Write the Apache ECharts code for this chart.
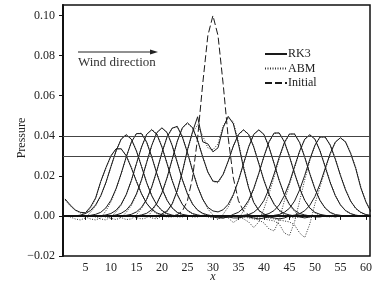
<!DOCTYPE html>
<html>
<head>
<meta charset="utf-8">
<script src="https://cdn.jsdelivr.net/npm/echarts@6/dist/echarts.min.js"></script>
<style>
  html, body { margin: 0; padding: 0; background: #fff; }
  #chart { width: 386px; height: 286px; }
</style>
</head>
<body>
<div id="chart"></div>
<script>
// grid points along x
const xs = [1,2,3,4,5,6,7,8,9,10,11,12,13,14,15,16,17,18,19,20,21,22,23,24,25,26,27,28,29,30,
  31,32,33,34,35,36,37,38,39,40,41,42,43,44,45,46,47,48,49,50,51,52,53,54,55,56,57,58,59,60,61];
const xTicks = [5, 10, 15, 20, 25, 30, 35, 40, 45, 50, 55, 60];
const yTicks = [-0.02, 0, 0.02, 0.04, 0.06, 0.08, 0.10];
const refLevels = [0.0405, 0.033];

// initial pulse
const initial = [0,0,0,0,0,0,0,0,0,0, 0,0,0,0,0,0,0,0,0,0,
  0,0,0.0006,0.0024,0.0076,0.019,0.039,0.066,0.09,0.1,
  0.09,0.066,0.039,0.019,0.0076,0.0024,0.0006,0,0,0,
  0,0,0,0,0,0,0,0,0,0, 0,0,0,0,0,0,0,0,0,0,0];

// RK3 snapshots
const rk3T1 = [0,0,0,0,0,0,0,0,0,0, 0,0,0,0,0,0,0,0,-0.0005,0.001,
  0.0025,0.006,0.0126,0.022,0.033,0.042,0.0495,0.037,0.036,0.032,
  0.034,0.044,0.0497,0.046,0.036,0.024,0.014,0.0067,0.0028,0.001,
  0,0,0,0,0,0,0,0,0,0, 0,0,0,0,0,0,0,0,0,0,0];
const rk3T2 = [0,0,0,0,0,0,0,0,0,0, 0,0,0,0,0,0.0005,0.0013,0.0031,0.0063,0.0116,
  0.0191,0.0282,0.0372,0.044,0.0465,0.044,0.0377,0.0294,0.0219,0.0174,
  0.017,0.0208,0.0274,0.0349,0.0407,0.043,0.0407,0.0344,0.0261,0.0177,
  0.0107,0.0058,0.0028,0.0012,0.0005,0,-0.0005,-0.001,-0.0005,0,
  0,0,0,0,0,0,0,0,0,0,0];
const rk3T3 = [0,0,0,0,0,0,0,0,0,0, 0,0,0.0003,0.0008,0.002,0.0043,0.0083,0.0145,0.0226,0.0316,
  0.0394,0.0438,0.0447,0.0394,0.0316,0.0226,0.0145,0.0083,0.0043,0.0025,
  0.002,0.0031,0.0058,0.0107,0.0177,0.0261,0.0344,0.0407,0.043,0.0407,
  0.0344,0.0261,0.0177,0.0107,0.0058,0.0028,0.0012,0.0005,0,-0.0005,
  -0.0005,0,0,0,0,0,0,0,0,0,0];
const rk3T4 = [0,0,0,0,0,0,0,0,0,0,
  0.0005,0.0013,0.0029,0.0059,0.011,0.0181,0.0267,0.0352,0.0416,0.044,
  0.0416,0.0352,0.0267,0.0181,0.011,0.0059,0.0029,0.0013,0.0005,0,
  -0.0005,-0.001,-0.0005,0.0008,0.0018,0.004,0.0078,0.0137,0.0213,0.0297,
  0.037,0.0414,0.0414,0.037,0.0297,0.0213,0.0137,0.0078,0.004,0.0018,
  0.0008,0.0003,0,-0.0005,0,0,0,0,0,0,0];
const rk3T5 = [0,0,0,0,0,0,0,0,0.0005,0.0012,
  0.0028,0.0058,0.0107,0.0177,0.0261,0.0344,0.0407,0.043,0.0407,0.0344,
  0.0261,0.0177,0.0107,0.0058,0.0028,0.0012,0.0005,0,0,-0.0005,
  -0.001,-0.001,-0.0005,0,0,0.0003,0.0007,0.0018,0.004,0.0077,
  0.0135,0.021,0.0293,0.0366,0.0409,0.0409,0.0366,0.0293,0.021,0.0135,
  0.0077,0.004,0.0018,0.0007,0.0003,0,0,0,0,0,0];
const rk3T6 = [0,0,0,0,0,0.0003,0.0008,0.0018,0.004,0.0078,
  0.0136,0.0211,0.0295,0.0368,0.0411,0.0411,0.0368,0.0295,0.0211,0.0136,
  0.0078,0.004,0.0018,0.0008,0.0003,0,0,0,0,0,
  0,0,-0.0005,-0.001,-0.001,-0.0005,0,0,0,0.0004,
  0.0012,0.0027,0.0055,0.0101,0.0166,0.0246,0.0324,0.0383,0.0405,0.0383,
  0.0324,0.0246,0.0166,0.0101,0.0055,0.0027,0.0012,0.0004,0,0,0];
const rk3T7 = [0,0,0,0.0004,0.0012,0.0027,0.0055,0.0101,0.0166,0.0246,
  0.0324,0.0383,0.0405,0.0383,0.0324,0.0246,0.0166,0.0101,0.0055,0.0027,
  0.0012,0.0004,0,0,0,0,0,0,0,0,
  0,0,0,0,0,0,-0.0005,-0.001,-0.0015,-0.001,
  -0.0005,0.0003,0.0007,0.0018,0.0038,0.0074,0.013,0.0202,0.0283,0.0353,
  0.0394,0.0394,0.0353,0.0283,0.0202,0.013,0.0074,0.0038,0.0018,0.0007,0.0003];
const rk3T8 = [0.0085,0.0055,0.003,0.0018,0.0016,0.0045,0.009,0.0172,0.024,0.03,
  0.0335,0.0335,0.03,0.024,0.0172,0.011,0.0063,0.0033,0.0015,0.0006,
  0.0002,0,0,0,0,0,0,0,0,0, 0,0,0,0,0,0,0,0,0,0,
  -0.0005,-0.001,-0.0015,-0.001,0,0.0004,0.0011,0.0026,0.0053,0.0097,
  0.016,0.0237,0.0312,0.0369,0.039,0.0369,0.0312,0.0237,0.014,0.007,0.002];

// ABM snapshots
const abmT1 = [0,0,0,0,0,0,0,0,0,0, 0,0,0,0,0,0,0,-0.001,-0.0015,0,
  0.002,0.0058,0.0122,0.0218,0.0325,0.0415,0.0455,0.04,0.034,0.033,
  0.036,0.045,0.049,0.047,0.037,0.025,0.0145,0.007,0.0025,0.0005,
  -0.0005,0,0,0,0,0,0,0,0,0, 0,0,0,0,0,0,0,0,0,0,0];
const abmT2 = [0,0,0,0,0,0,0,0,0,0, 0,0,0,0,-0.0008,-0.0015,-0.001,0.0022,0.006,0.0112,
  0.0188,0.028,0.037,0.0438,0.0462,0.0441,0.038,0.0296,0.022,0.0172,
  0.0165,0.0205,0.0272,0.0348,0.0405,0.0428,0.0408,0.0347,0.0265,0.018,
  0.011,0.006,0.0025,0.0005,-0.0005,-0.001,-0.0005,0,0,0,
  0,0,0,0,0,0,0,0,0,0,0];
const abmT3 = [0,0,0,0,0,0,0,0,0,0, 0,-0.0008,-0.0018,-0.0015,0.0005,0.0038,0.008,0.0142,0.0224,0.0315,
  0.0393,0.0438,0.0445,0.0398,0.032,0.023,0.0148,0.0085,0.0035,0.0005,
  -0.002,0.0008,0.0045,0.0102,0.0175,0.026,0.0345,0.0408,0.0428,0.0405,
  0.0343,0.0262,0.0178,0.0105,0.0055,0.0022,0.0005,-0.0005,-0.0005,0,
  0,0,0,0,0,0,0,0,0,0,0];
const abmT4 = [0,0,0,0,0,0,0,0,-0.0005,-0.0012,
  -0.0018,-0.0008,0.0018,0.0052,0.0105,0.0178,0.0265,0.0351,0.0415,0.0438,
  0.0418,0.0355,0.027,0.0184,0.0112,0.006,0.0028,0.001,0,0,
  0,0,-0.001,-0.0033,-0.0015,0.0025,0.007,0.0133,0.0211,0.0296,
  0.0369,0.0412,0.0415,0.0372,0.03,0.0216,0.0139,0.0078,0.0038,0.0015,
  0.0003,-0.0003,-0.0005,0,0,0,0,0,0,0,0];
const abmT5 = [0,0,0,0,0,0,-0.0005,-0.0015,-0.002,-0.0005,
  0.002,0.0053,0.0104,0.0175,0.026,0.0344,0.0408,0.0432,0.041,0.0347,
  0.0264,0.018,0.0108,0.0058,0.0026,0.001,0,0,-0.0005,-0.001,
  -0.0005,0,0,0,-0.0005,-0.0015,-0.003,-0.0058,-0.003,0.0035,
  0.011,0.0195,0.0285,0.0362,0.0408,0.041,0.0368,0.0296,0.0213,0.0138,
  0.0078,0.0038,0.0015,0.0003,-0.0003,0,0,0,0,0,0];
const abmT6 = [0,0,0,0,-0.0005,-0.0015,-0.002,-0.001,0.0025,0.007,
  0.0132,0.0208,0.0293,0.0367,0.0411,0.0413,0.0371,0.0298,0.0214,0.0139,
  0.008,0.004,0.0016,0.0005,0,-0.0005,-0.0005,0,0,0,
  0,0,0,0,0,-0.0005,-0.001,-0.0015,-0.002,-0.0035,
  -0.0065,-0.0075,-0.002,0.0075,0.0155,0.024,0.032,0.0382,0.0405,0.0385,
  0.0327,0.025,0.017,0.0103,0.0055,0.0025,0.001,0.0002,0,0,0];
const abmT7 = [0,-0.0005,-0.0015,-0.002,-0.001,0.0018,0.005,0.0098,0.0164,0.0245,
  0.0324,0.0384,0.0406,0.0385,0.0327,0.0249,0.0168,0.0102,0.0054,0.0025,
  0.0009,0,-0.0005,-0.0005,0,0,0,0,0,0,
  0,0,0,0,0,0,0,-0.0005,-0.001,-0.0015,
  -0.002,-0.0025,-0.004,-0.0085,-0.0098,-0.003,0.0075,0.018,0.0275,0.035,
  0.0393,0.0395,0.0356,0.0287,0.0206,0.0133,0.0075,0.0037,0.0015,0.0004,0];
const abmT8 = [0.008,0.005,0.0028,0.0015,0.0012,0.004,0.0087,0.017,0.0238,0.0298,
  0.0334,0.0336,0.0302,0.0243,0.0175,0.0112,0.0062,0.003,0.001,0,
  -0.0005,-0.0005,0,0,0,0,0,0,0,0,
  0,0,0,0,0,0,0,0,0,-0.0005,
  -0.001,-0.0015,-0.002,-0.0025,-0.003,-0.0045,-0.0085,-0.0108,-0.004,0.006,
  0.0145,0.0228,0.0308,0.0367,0.0391,0.0372,0.0316,0.0242,0.0145,0.0072,0.0022];

const rk3Runs = [rk3T1, rk3T2, rk3T3, rk3T4, rk3T5, rk3T6, rk3T7, rk3T8];
const abmRuns = [abmT1, abmT2, abmT3, abmT4, abmT5, abmT6, abmT7, abmT8];

const serif = 'Liberation Serif';
const toPairs = vals => vals.map((v, i) => [xs[i], v]);

const chart = echarts.init(document.getElementById('chart'));

const series = [];
rk3Runs.forEach(vals => {
  series.push({
    name: 'RK3', type: 'line', data: toPairs(vals), symbol: 'none', silent: true,
    lineStyle: { color: '#1a1a1a', width: 1 }, itemStyle: { color: '#1a1a1a' }, z: 3,
  });
});
abmRuns.forEach(vals => {
  series.push({
    name: 'ABM', type: 'line', data: toPairs(vals), symbol: 'none', silent: true,
    lineStyle: { color: '#333', width: 1, type: [1, 1.5] }, itemStyle: { color: '#333' }, z: 2,
  });
});
series.push({
  name: 'Initial', type: 'line', data: toPairs(initial), symbol: 'none', silent: true,
  lineStyle: { color: '#1a1a1a', width: 1, type: [7, 3] }, itemStyle: { color: '#1a1a1a' }, z: 4,
  markLine: {
    silent: true, symbol: 'none', label: { show: false }, animation: false,
    data: [
      ...refLevels.map(v => ({ yAxis: v, lineStyle: { color: '#444', width: 1.2, type: 'solid' } })),
      { yAxis: 0, lineStyle: { color: '#111', width: 2, type: 'solid' } },
    ],
  },
});

const option = {
  animation: false,
  backgroundColor: '#fff',
  grid: {
    left: 63, right: 16, top: 5, bottom: 30, show: true, borderColor: '#111', borderWidth: 1.5,
    containLabel: false, outerBoundsMode: 'none',
  },
  legend: {
    data: ['RK3', 'ABM', 'Initial'],
    orient: 'vertical', left: 264, top: 48, padding: 0,
    itemWidth: 22, itemHeight: 10, itemGap: 2.5,
    itemStyle: { opacity: 0 },
    textStyle: { fontFamily: serif, fontSize: 12, color: '#222', padding: [0, 0, 0, -4] },
  },
  xAxis: {
    type: 'value', min: 0.6, max: 60.8,
    axisLine: { show: true, lineStyle: { color: '#111', width: 2 } },
    axisTick: { show: true, inside: false, length: 4, customValues: xTicks, lineStyle: { color: '#111' } },
    axisLabel: { customValues: xTicks, fontFamily: serif, fontSize: 12, color: '#222', margin: 6 },
    splitLine: { show: false },
  },
  yAxis: {
    type: 'value', min: -0.02, max: 0.1053,
    axisLine: { show: true, lineStyle: { color: '#111', width: 2 } },
    axisTick: { show: true, inside: false, length: 4, customValues: yTicks, lineStyle: { color: '#111' } },
    axisLabel: {
      customValues: yTicks, fontFamily: serif, fontSize: 12, color: '#222', margin: 8,
      formatter: v => (v < 0 ? '\u2212' : '') + Math.abs(v).toFixed(2),
    },
    splitLine: { show: false },
  },
  graphic: [
    {
      type: 'text', x: 22, y: 138, rotation: Math.PI / 2,
      style: { text: 'Pressure', font: '12px "Liberation Serif"', fill: '#222', align: 'center', verticalAlign: 'middle' },
    },
    {
      type: 'text', x: 213, y: 277,
      style: { text: 'x', font: 'italic 12px "Liberation Serif"', fill: '#222', align: 'center', verticalAlign: 'middle' },
    },
    { type: 'line', shape: { x1: 78, y1: 52, x2: 152, y2: 52 }, style: { stroke: '#222', lineWidth: 1.2 } },
    { type: 'polygon', shape: { points: [[150, 49.5], [158, 52], [150, 54.5]] }, style: { fill: '#222' } },
    { type: 'text', left: 78, top: 56, style: { text: 'Wind direction', font: '13px "Liberation Serif"', fill: '#333' } },
  ],
  series: series,
};

chart.setOption(option);
window.addEventListener('resize', () => chart.resize());
</script>
</body>
</html>
